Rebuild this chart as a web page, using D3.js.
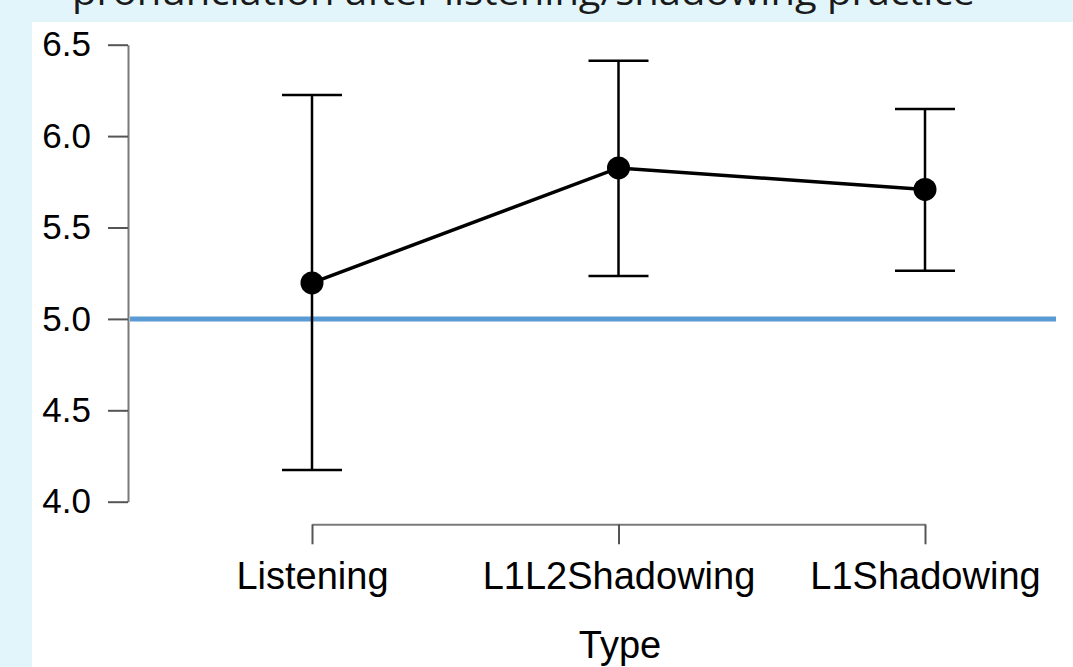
<!DOCTYPE html>
<html>
<head>
<meta charset="utf-8">
<script src="https://cdn.jsdelivr.net/npm/d3@7"></script>
<style>
body{margin:0;padding:0;background:#e2f5fa;}
svg{display:block;}
</style>
</head>
<body>
<div id="chart"></div>
<script>
// data
const types=["Listening","L1L2Shadowing","L1Shadowing"];
const means=[5.197,5.826,5.708];
const upper=[6.225,6.412,6.148];
const lower=[4.173,5.235,5.264];
const yTicks=[4.0,4.5,5.0,5.5,6.0,6.5];
const refValue=5.0;
const titleText="pronunciation after listening/shadowing practice";

const width=1073, height=667;
let svg=d3.select("#chart").append("svg")
  .attr("width",width)
  .attr("height",height);

// background: light blue slide with white panel
svg.append("rect").attr("width",width).attr("height",height).attr("fill","#e2f5fa");
svg.append("rect").attr("x",32).attr("y",22).attr("width",width-32).attr("height",height-22).attr("fill","#ffffff");

// title, cut by the top edge as in the slide
svg.append("text")
  .attr("x",72).attr("y",5)
  .attr("textLength",903).attr("lengthAdjust","spacingAndGlyphs")
  .style("font-family","'Open Sans', 'Noto Sans', sans-serif")
  .style("font-size","36px")
  .attr("fill","#1a1a1a")
  .text(titleText);

const y=d3.scaleLinear().domain([4.0,6.5]).range([501.7,44.7]);
const x=d3.scalePoint().domain(types).range([312,925]);

// y axis
let yAxis=svg.append("g")
  .attr("transform","translate(128,0)")
  .call(d3.axisLeft(y).tickValues(yTicks).tickFormat(d3.format(".1f")).tickSize(20).tickSizeOuter(0).tickPadding(17));
yAxis.selectAll("text")
  .style("font-family","'Liberation Sans', Arial, sans-serif")
  .style("font-size","35px")
  .attr("fill","#000");

// x axis
let xAxis=svg.append("g")
  .attr("transform","translate(0,524.3)")
  .call(d3.axisBottom(x).tickSize(20).tickSizeOuter(0).tickPadding(18));
xAxis.selectAll("text")
  .style("font-family","'Liberation Sans', Arial, sans-serif")
  .style("font-size","38px")
  .attr("fill","#000");

[yAxis,xAxis].forEach(function(ax){
  ax.select(".domain").attr("stroke","#7a7a7a").attr("stroke-width",2);
  ax.selectAll(".tick line").attr("stroke","#555").attr("stroke-width",2);
});

// x axis title
svg.append("text")
  .attr("x",620).attr("y",658)
  .attr("text-anchor","middle")
  .style("font-family","'Liberation Sans', Arial, sans-serif")
  .style("font-size","38px")
  .text("Type");

// reference line
svg.append("line")
  .attr("x1",130).attr("x2",1056)
  .attr("y1",y(refValue)).attr("y2",y(refValue))
  .attr("stroke","#5b9bd5").attr("stroke-width",5);

const rows=types.map(function(t,i){return {t:t,m:means[i],hi:upper[i],lo:lower[i]};});

// error bars
let bars=svg.append("g").selectAll("g").data(rows).join("g");
bars.append("line")
  .attr("x1",d=>x(d.t)).attr("x2",d=>x(d.t))
  .attr("y1",d=>y(d.hi)).attr("y2",d=>y(d.lo))
  .attr("stroke","#000").attr("stroke-width",2.5);
bars.append("line")
  .attr("x1",d=>x(d.t)-30).attr("x2",d=>x(d.t)+30)
  .attr("y1",d=>y(d.hi)).attr("y2",d=>y(d.hi))
  .attr("stroke","#000").attr("stroke-width",2.5);
bars.append("line")
  .attr("x1",d=>x(d.t)-30).attr("x2",d=>x(d.t)+30)
  .attr("y1",d=>y(d.lo)).attr("y2",d=>y(d.lo))
  .attr("stroke","#000").attr("stroke-width",2.5);

// mean line and points
svg.append("path")
  .datum(rows)
  .attr("fill","none")
  .attr("stroke","#000")
  .attr("stroke-width",3.5)
  .attr("d",d3.line().x(d=>x(d.t)).y(d=>y(d.m)));

svg.append("g").selectAll("circle").data(rows).join("circle")
  .attr("cx",d=>x(d.t)).attr("cy",d=>y(d.m))
  .attr("r",11.5)
  .attr("fill","#000");
</script>
</body>
</html>
